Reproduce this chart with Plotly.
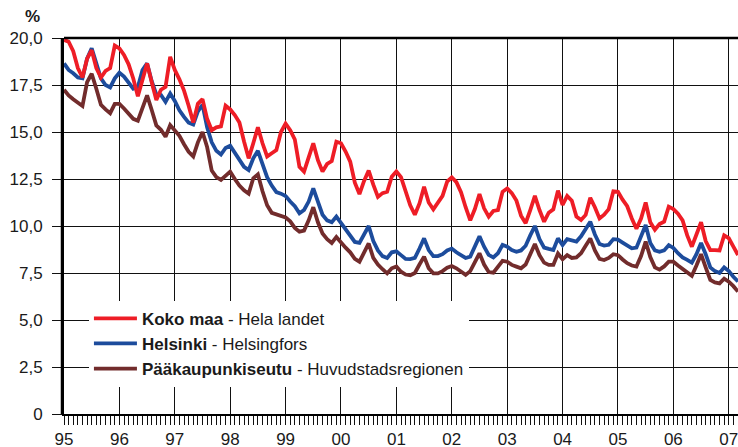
import plotly.graph_objects as go

# months since Jan 1995 (0 = 1995-01), last point March 2007
months = list(range(147))

koko_maa = [
    19.9, 19.8, 19.3, 18.4, 17.9, 18.9, 19.35, 18.4, 17.9, 18.25, 18.4, 19.6,
    19.45, 19.1, 18.6, 17.85, 16.9, 17.8, 18.65, 17.65, 16.7, 17.25, 17.4, 19.0,
    18.3, 17.8, 17.2, 16.4, 15.5, 16.5, 16.75, 15.7, 15.1, 15.25, 15.3, 16.4,
    16.2, 15.9, 15.5, 14.5, 13.6, 14.4, 15.25, 14.4, 13.7, 13.87, 14.04, 15.0,
    15.45, 15.1, 14.6, 13.15, 12.89, 13.65, 14.4, 13.5, 12.9, 13.3, 13.45, 14.48,
    14.4, 13.96, 13.42, 12.3, 11.7, 12.4, 12.95, 12.2, 11.55, 11.75, 11.82, 12.62,
    12.9, 12.6, 11.82, 11.1, 10.6, 11.2, 12.09, 11.25, 10.89, 11.29, 11.6, 12.36,
    12.59, 12.33, 11.8, 11.0, 10.3, 10.9, 11.7, 10.94, 10.5, 10.8, 10.85, 11.82,
    12.0, 11.75, 11.35, 10.55, 10.15, 10.85, 11.6, 10.85, 10.23, 10.71, 10.89, 11.88,
    11.12, 11.6, 11.35, 10.5, 10.32, 10.59, 11.5, 11.0, 10.4, 10.6, 10.9, 11.85,
    11.82, 11.4, 11.05, 10.4, 9.85, 10.4, 11.25, 10.2, 9.8, 10.1, 10.23, 11.03,
    10.9, 10.65, 10.3, 9.5, 8.9, 9.55, 10.2, 9.2, 8.72, 8.72, 8.7, 9.5,
    9.35, 8.9, 8.46,
]

helsinki = [
    18.65, 18.3, 18.12, 17.9, 17.86, 18.9, 19.45, 18.6, 17.85, 17.5, 17.37, 17.85,
    18.15, 17.95, 17.6, 17.3, 17.4, 18.3, 18.65, 17.7, 17.0, 16.97, 16.6, 17.05,
    16.65, 16.15, 15.8, 15.5, 15.4, 16.1, 16.45, 15.25, 14.45, 14.0, 13.8, 14.15,
    14.27, 13.9, 13.45, 13.15, 12.98, 13.6, 14.0, 13.35, 12.6, 12.15, 11.8, 11.72,
    11.6, 11.3, 11.05, 10.67, 10.85, 11.3, 12.0, 11.3, 10.6, 10.3, 10.2, 10.5,
    10.15, 9.8, 9.45, 9.15, 9.1, 9.6, 10.0, 9.2, 8.7, 8.4, 8.3, 8.6,
    8.65, 8.45, 8.25, 8.24, 8.3, 8.8, 9.34, 8.72, 8.4, 8.4, 8.5, 8.7,
    8.8, 8.6, 8.45, 8.3, 8.37, 8.95, 9.45, 8.9, 8.46, 8.33, 8.55, 9.0,
    8.9, 8.72, 8.63, 8.7, 8.95, 9.5, 10.0, 9.3, 8.85, 8.78, 8.72, 9.34,
    8.99, 9.3, 9.25, 9.17, 9.45, 9.85, 10.23, 9.55, 9.04, 8.96, 9.0, 9.3,
    9.28, 9.12, 8.95, 8.81, 8.85, 9.52, 10.05, 9.1, 8.7, 8.63, 8.7, 8.98,
    8.83, 8.55, 8.33, 8.2, 8.05, 8.5, 9.1, 8.5, 7.8, 7.6, 7.5, 7.8,
    7.6, 7.3, 7.05,
]

paakaupunkiseutu = [
    17.25, 16.95, 16.74, 16.53, 16.38, 17.65, 18.1, 17.3, 16.45, 16.2, 16.0, 16.5,
    16.5, 16.25, 15.98, 15.7, 15.6, 16.3, 16.95, 16.17, 15.35, 15.12, 14.75, 15.37,
    15.1, 14.8, 14.35, 13.95, 13.7, 14.45, 15.0, 14.2, 12.95, 12.6, 12.45, 12.7,
    12.89, 12.5, 12.15, 11.9, 11.72, 12.54, 12.75, 11.85, 11.1, 10.7, 10.6, 10.55,
    10.45, 10.25, 9.9, 9.7, 9.76, 10.3, 11.0, 10.2, 9.6, 9.3, 9.1, 9.42,
    9.1, 8.85, 8.6, 8.25, 8.1, 8.6, 9.07, 8.3, 7.95, 7.7, 7.48, 7.75,
    7.85, 7.57, 7.42, 7.38, 7.5, 7.95, 8.37, 7.75, 7.48, 7.48, 7.6, 7.78,
    7.87, 7.75, 7.55, 7.4, 7.6, 8.1, 8.55, 7.95, 7.55, 7.52, 7.8, 8.15,
    8.1, 7.93, 7.84, 7.75, 7.95, 8.5, 9.04, 8.45, 8.05, 7.93, 7.93, 8.54,
    8.23, 8.45, 8.3, 8.33, 8.55, 8.95, 9.34, 8.7, 8.25, 8.19, 8.3, 8.5,
    8.45, 8.22, 8.02, 7.9, 7.84, 8.4, 9.17, 8.35, 7.8, 7.68, 7.85, 8.1,
    8.1, 7.9, 7.7, 7.5, 7.35, 7.9, 8.5, 7.8, 7.13, 7.0, 6.95, 7.2,
    7.04, 6.8, 6.51,
]

year_ticks = [0, 12, 24, 36, 48, 60, 72, 84, 96, 108, 120, 132, 144]
year_labels = ["95", "96", "97", "98", "99", "00", "01", "02", "03", "04", "05", "06", "07"]
y_ticks = [0, 2.5, 5, 7.5, 10, 12.5, 15, 17.5, 20]
y_labels = ["0", "2,5", "5,0", "7,5", "10,0", "12,5", "15,0", "17,5", "20,0"]

FONT = "Liberation Sans, Arial, sans-serif"

fig = go.Figure()

# drawn bottom-up so red lies on top; legend reversed
series = [
    ("<b>Pääkaupunkiseutu</b> - Huvudstadsregionen", paakaupunkiseutu, "#722C2C"),
    ("<b>Helsinki</b> - Helsingfors", helsinki, "#1D4C9C"),
    ("<b>Koko maa</b> - Hela landet", koko_maa, "#EE1D26"),
]
for name, vals, col in series:
    fig.add_trace(go.Scatter(
        x=months, y=vals, name=name, mode="lines",
        line=dict(color=col, width=3.8),
    ))

fig.update_layout(
    width=738, height=447,
    margin=dict(l=64, r=0, t=38, b=33),
    plot_bgcolor="white", paper_bgcolor="white",
    font=dict(family=FONT, size=17, color="#1a1a1a"),
    showlegend=True,
    legend=dict(
        x=0.037, y=0.301, xanchor="left", yanchor="top",
        bgcolor="white", traceorder="reversed",
        font=dict(size=17, color="#1a1a1a"),
        tracegroupgap=0, itemwidth=43,
    ),
    xaxis=dict(
        range=[0, 146],
        tickvals=year_ticks, ticktext=year_labels,
        showgrid=True, gridcolor="#111", gridwidth=1,
        ticks="outside", ticklen=9, tickcolor="#111",
        minor=dict(dtick=1, tick0=0, ticks="outside", ticklen=9, tickcolor="#111", showgrid=False),
        showline=True, linecolor="#000", linewidth=2,
        zeroline=False, automargin=False, ticklabeloverflow="allow",
    ),
    yaxis=dict(
        range=[0, 20],
        tickvals=y_ticks, ticktext=y_labels,
        showgrid=True, gridcolor="#111", gridwidth=1,
        ticks="outside", ticklen=10, tickcolor="#111",
        showline=True, linecolor="#000", linewidth=2,
        zeroline=False, ticklabelstandoff=6, automargin=False,
    ),
)

# top frame line and the doubled left axis line
fig.add_shape(type="line", xref="paper", yref="paper", x0=0, x1=1, y0=1, y1=1,
              line=dict(color="#000", width=2.5))
fig.add_shape(type="line", xref="paper", yref="paper", x0=-0.0037, x1=-0.0037, y0=0, y1=1,
              line=dict(color="#000", width=1.5))

fig.add_annotation(text="<b>%</b>", xref="paper", yref="paper", x=-0.046, y=1.056,
                   xanchor="center", yanchor="middle", showarrow=False,
                   font=dict(size=17, color="#1a1a1a"))

fig.write_html("out.html", config={"displayModeBar": False},
               post_script="document.body.style.margin='0';")
